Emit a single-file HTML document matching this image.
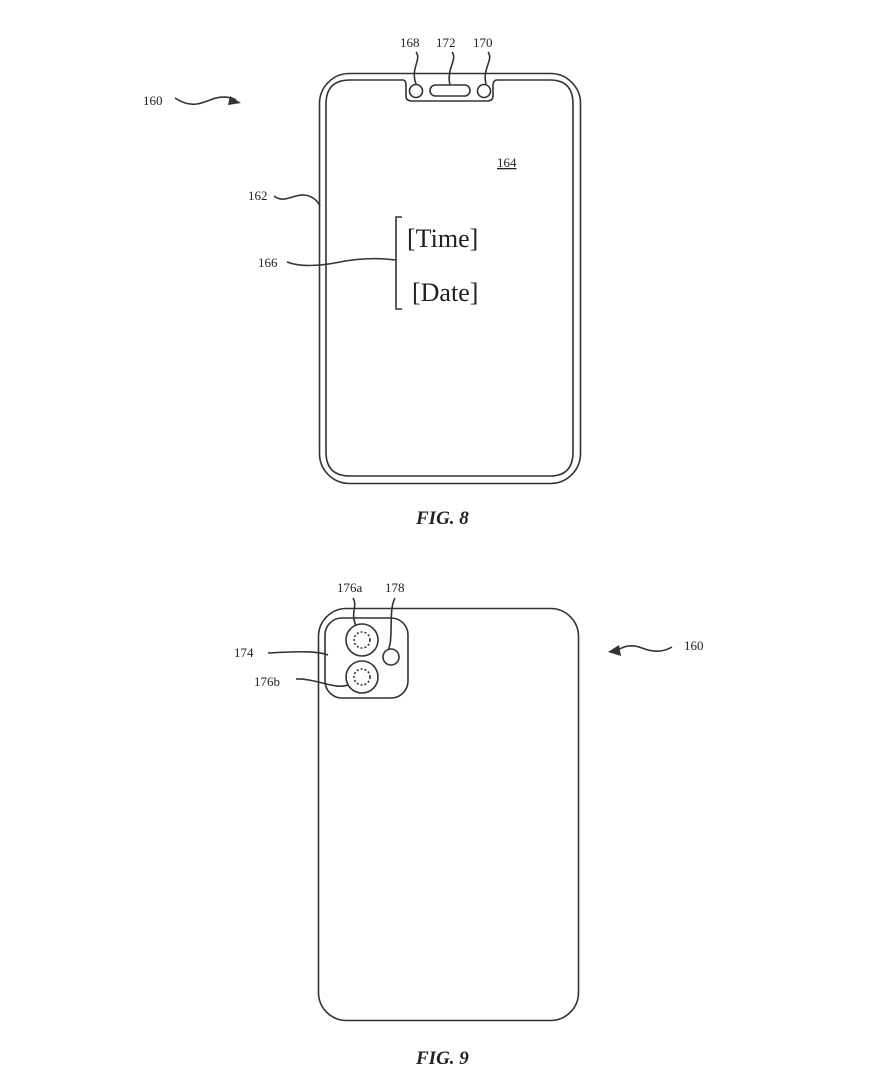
<!DOCTYPE html>
<html><head><meta charset="utf-8"><style>
html,body{margin:0;padding:0;background:#fff;}
svg{display:block;}
text{font-family:"Liberation Serif",serif;fill:#222;}
</style></head><body>
<svg width="877" height="1088" viewBox="0 0 877 1088" xmlns="http://www.w3.org/2000/svg">
<g fill="none" stroke="#333" stroke-width="1.6">
<!-- FIG 8 -->
<rect x="319.5" y="73.5" width="261" height="410" rx="30"/>
<path d="M403,80 L350,80 Q326,80 326,104 L326,452 Q326,476 350,476 L550,476 Q573,476 573,452 L573,104 Q573,80 550,80 L497,80 Q493,80 493,86 L493,96 Q493,101 487,101 L412,101 Q406,101 406,96 L406,86 Q406,80 403,80 Z"/>
<circle cx="416" cy="91" r="6.5"/>
<circle cx="484" cy="91" r="6.5"/>
<rect x="430" y="85" width="40" height="11" rx="5.5"/>
<path d="M416,52 C422,60 410,68 416,84"/>
<path d="M452,52 C458,60 446,68 450,85"/>
<path d="M488,52 C494,60 482,68 486,84"/>
<path d="M175,98 C190,108 200,104 210,100 C220,96 228,96 236,100"/>
<path d="M274,196 C284,204 294,194 304,195 C314,196 318,202 320,206"/>
<path d="M287,262 C300,267 320,266 340,262 C360,258 380,258 396,260"/>
<path d="M402,217 L396,217 L396,309 L402,309"/>
<!-- FIG 9 -->
<rect x="318.5" y="608.5" width="260" height="412" rx="28"/>
<rect x="325" y="618" width="83" height="80" rx="17"/>
<circle cx="362" cy="640" r="16"/>
<circle cx="362" cy="677" r="16"/>
<circle cx="362" cy="640" r="8" stroke-dasharray="2 2"/>
<circle cx="362" cy="677" r="8" stroke-dasharray="2 2"/>
<circle cx="391" cy="657" r="8"/>
<path d="M353,598 C358,606 350,612 356,626"/>
<path d="M395,598 C388,610 394,640 388,650"/>
<path d="M268,653 C290,652 315,650 328,655"/>
<path d="M296,679 C315,678 335,690 348,685"/>
<path d="M672,647 C662,653 652,652 642,648 C632,644 624,646 618,650"/>
</g>
<polygon points="230,96 241,103 228,105" fill="#333"/>
<polygon points="608,652 619,645 621,656" fill="#333"/>
<text x="143" y="105" font-size="13">160</text>
<text x="248" y="200" font-size="13">162</text>
<text x="258" y="267" font-size="13">166</text>
<text x="497" y="167" font-size="13" text-decoration="underline">164</text>
<text x="400" y="47" font-size="13">168</text>
<text x="436" y="47" font-size="13">172</text>
<text x="473" y="47" font-size="13">170</text>
<text x="407" y="247" font-size="26">[Time]</text>
<text x="412" y="301" font-size="26">[Date]</text>
<text x="416" y="524" font-size="19" font-style="italic" font-weight="bold">FIG. 8</text>
<text x="337" y="592" font-size="13">176a</text>
<text x="385" y="592" font-size="13">178</text>
<text x="234" y="657" font-size="13">174</text>
<text x="254" y="686" font-size="13">176b</text>
<text x="684" y="650" font-size="13">160</text>
<text x="416" y="1064" font-size="19" font-style="italic" font-weight="bold">FIG. 9</text>
</svg>
</body></html>
